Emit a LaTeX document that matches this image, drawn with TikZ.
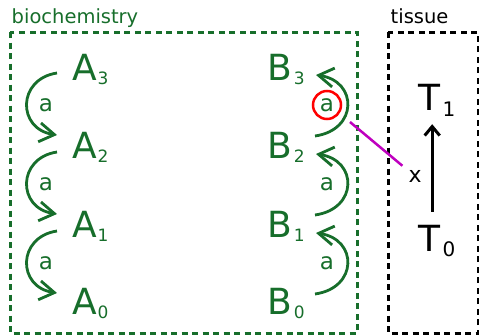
\documentclass[tikz,border=0pt]{standalone}
\usepackage{fontspec}
\setmainfont{DejaVu Sans}
\usetikzlibrary{arrows.meta}
\definecolor{bio}{RGB}{23,110,43}
\definecolor{mag}{RGB}{191,0,191}
\begin{document}
\begin{tikzpicture}[x=1pt,y=-1pt,
  big/.style={inner sep=0pt, anchor=base west, font=\fontsize{36}{40}\selectfont},
  subs/.style={inner sep=0pt, anchor=base west, font=\fontsize{17}{20}\selectfont},
  tsub/.style={inner sep=0pt, anchor=base west, font=\fontsize{20}{24}\selectfont},
  lbl/.style={inner sep=0pt, font=\fontsize{23}{26}\selectfont, text=bio},
  ttl/.style={inner sep=0pt, anchor=base west, font=\fontsize{19.5}{22}\selectfont},
  frame/.style={line width=3pt, dash pattern=on 6pt off 4.5pt},
  rxn/.style={draw=bio, line width=2.8pt, -{Straight Barb[length=15pt,width=19pt,sharp]}},
]
\useasboundingbox (0,0) rectangle (479,335);

% frames
\draw[frame, draw=bio] (10,32) rectangle (357,333);
\draw[frame, draw=black] (388,32) rectangle (478,333);
\node[ttl, text=bio] (bioT) at (11.5,23) {biochemistry};
\node[ttl] (tisT) at (390.5,23) {tissue};

% A and B columns
\foreach \i/\y in {3/80,2/158,1/237,0/314}{
  \node[big, text=bio] (A\i) at (72.5,\y) {A};
  \node[subs, text=bio] (A\i s) at ([yshift=-4pt]A\i.base east) {\i};
  \node[big, text=bio] (B\i) at (267.5,\y) {B};
  \node[subs, text=bio] (B\i s) at ([xshift=1pt,yshift=-4pt]B\i.base east) {\i};
}

% left arcs (A_k -> A_{k-1})
\foreach \k/\s/\e/\l in {3/73/135/105, 2/152/214/184, 1/231/293/263}{
  \coordinate (as\k) at (57,\s);
  \coordinate (ae\k) at (57,\e);
  \draw[rxn] (as\k) .. controls +(-40,6) and +(-40,-6) .. (ae\k);
  \node[lbl] (la\k) at (46,\l) {a};
}

% right arcs (B_{k-1} -> B_k)
\foreach \k/\s/\e/\l in {3/136/75/105, 2/215/154/184, 1/294/233/263}{
  \coordinate (bs\k) at (315,\s);
  \coordinate (be\k) at (316,\e);
  \draw[rxn] (bs\k) .. controls +(43,-6) and +(42,6) .. (be\k);
}
\node[lbl, circle, draw=red, line width=2.5pt, minimum size=28pt] (lb3) at (327,105) {a};
\node[lbl] (lb2) at (327,184) {a};
\node[lbl] (lb1) at (327,263) {a};

% tissue
\node[big] (T1) at (418,110) {T};
\node[tsub] (T1s) at ([xshift=2pt,yshift=-6pt]T1.base east) {1};
\node[big] (T0) at (418,251) {T};
\node[tsub] (T0s) at ([xshift=2pt,yshift=-5pt]T0.base east) {0};
\draw[line width=3pt, -{Straight Barb[length=9pt,width=15pt,sharp]}, shorten <=13pt, shorten >=14pt]
  ([xshift=3pt]T0.north) -- ([xshift=3pt]T1.south);
\node[inner sep=0pt, anchor=base west, font=\fontsize{22}{26}\selectfont] (xl) at (408.4,182) {x};

% link
\coordinate (m0) at (350,122);
\draw[mag, line width=2.5pt] (m0) -- ([xshift=-6pt,yshift=4pt]xl.north west);
\end{tikzpicture}
\end{document}
